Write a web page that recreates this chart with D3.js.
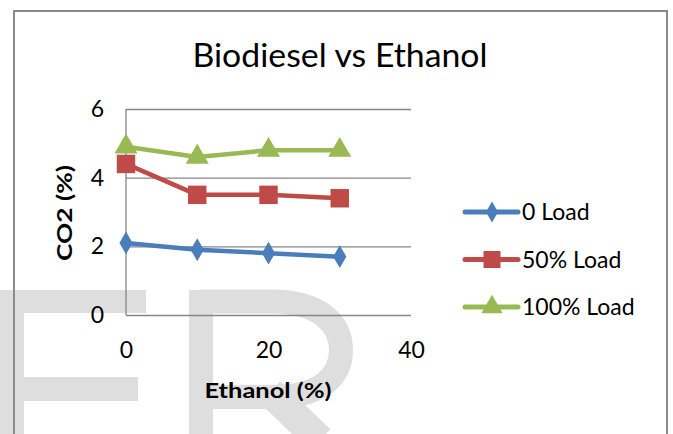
<!DOCTYPE html>
<html>
<head>
<meta charset="utf-8">
<script src="https://cdn.jsdelivr.net/npm/d3@7"></script>
<style>
  body { margin: 0; background: #fff; }
  svg { display: block; }
</style>
</head>
<body>
<svg id="chart" width="673" height="434"></svg>
<script>
// data
var ethanol = [0, 10, 20, 30];
var load0 = [2.1, 1.9, 1.8, 1.7];
var load50 = [4.4, 3.5, 3.5, 3.4];
var load100 = [4.9, 4.6, 4.8, 4.8];
var seriesNames = ["0 Load", "50% Load", "100% Load"];
var xTicks = [0, 20, 40];
var yTicks = [0, 2, 4, 6];

var svg = d3.select("#chart");
var font = "Lato, 'Open Sans', sans-serif";

svg.append("rect").attr("width", 673).attr("height", 434).style("fill", "white");

// watermark letters behind the chart
var wm = svg.append("g").style("fill", "#dedede").style("stroke", "#dedede");
wm.append("rect").attr("x", 0).attr("y", 290).attr("width", 24).attr("height", 150).style("stroke", "none");
wm.append("rect").attr("x", 0).attr("y", 290).attr("width", 146).attr("height", 23).style("stroke", "none");
wm.append("rect").attr("x", 24).attr("y", 377).attr("width", 114).attr("height", 24).style("stroke", "none");
wm.append("rect").attr("x", 189).attr("y", 290).attr("width", 24).attr("height", 150).style("stroke", "none");
wm.append("path")
    .attr("d", "M200 301.5 L272 301.5 C320 301.5 341 324 341 350 C341 377 320 397 272 397 L200 397")
    .style("fill", "none").style("stroke-width", 24);
wm.append("path")
    .attr("d", "M270 392 L320 440")
    .style("fill", "none").style("stroke-width", 30);

// chart frame
svg.append("rect")
    .attr("x", 14).attr("y", 11).attr("width", 653).attr("height", 440)
    .style("fill", "none").style("stroke", "#8a8a8a").style("stroke-width", 2);

var x = d3.scaleLinear().domain([0, 40]).range([126, 411]);
var y = d3.scaleLinear().domain([0, 6]).range([315, 109]);

// y axis with gridlines
var yAxis = svg.append("g")
    .attr("transform", "translate(126,0)")
    .call(d3.axisLeft(y).tickValues(yTicks).tickFormat(d3.format("d"))
      .tickSize(-(411 - 126)).tickPadding(22));
yAxis.select(".domain").remove();
yAxis.selectAll("line").style("stroke", "#868686").style("stroke-width", 1.3);
yAxis.selectAll("text").style("font-family", font).style("font-size", "23px").style("fill", "#000");

svg.append("line")
    .attr("x1", 126).attr("x2", 126).attr("y1", y(6)).attr("y2", y(0))
    .style("stroke", "#868686").style("stroke-width", 1.3);

// x axis
var xAxis = svg.append("g")
    .attr("transform", "translate(0,315)")
    .call(d3.axisBottom(x).tickValues(xTicks).tickFormat(d3.format("d")).tickSize(0).tickPadding(27));
xAxis.select(".domain").remove();
xAxis.selectAll("text").style("font-family", font).style("font-size", "23px").style("fill", "#000");

// titles
svg.append("text")
    .attr("x", 340).attr("y", 67)
    .attr("text-anchor", "middle")
    .attr("textLength", 295).attr("lengthAdjust", "spacingAndGlyphs")
    .style("font-family", font).style("font-size", "33px")
    .text("Biodiesel vs Ethanol");

svg.append("text")
    .attr("x", 268).attr("y", 398)
    .attr("text-anchor", "middle")
    .attr("textLength", 127).attr("lengthAdjust", "spacingAndGlyphs")
    .style("font-family", font).style("font-size", "21px").style("font-weight", "bold")
    .text("Ethanol (%)");

svg.append("text")
    .attr("transform", "translate(72,213) rotate(-90)")
    .attr("text-anchor", "middle")
    .attr("textLength", 96).attr("lengthAdjust", "spacingAndGlyphs")
    .style("font-family", font).style("font-size", "21px").style("font-weight", "bold")
    .text("CO2 (%)");

// series
var series = [
  { name: seriesNames[0], values: load0, color: "#4a7ebb", shape: d3.symbolDiamond, size: 150 },
  { name: seriesNames[1], values: load50, color: "#be4b48", shape: d3.symbolSquare, size: 340 },
  { name: seriesNames[2], values: load100, color: "#98b954", shape: d3.symbolTriangle, size: 230 }
];

var line = d3.line()
    .x(function(d) { return x(d[0]); })
    .y(function(d) { return y(d[1]); });

series.forEach(function(s) {
  var pts = ethanol.map(function(e, i) { return [e, s.values[i]]; });
  svg.append("path")
      .datum(pts)
      .attr("d", line)
      .style("fill", "none")
      .style("stroke", s.color)
      .style("stroke-width", 4.5)
      .style("stroke-linejoin", "round");

  svg.selectAll(null)
      .data(pts)
      .enter().append("path")
      .attr("transform", function(d) { return "translate(" + x(d[0]) + "," + y(d[1]) + ")"; })
      .attr("d", d3.symbol().type(s.shape).size(s.size))
      .style("fill", s.color);
});

// legend
var legend = svg.append("g");
series.forEach(function(s, i) {
  var ly = 212 + i * 47.5;
  var g = legend.append("g").attr("transform", "translate(0," + ly + ")");
  g.append("line")
      .attr("x1", 465).attr("x2", 518).attr("y1", 0).attr("y2", 0)
      .style("stroke", s.color).style("stroke-width", 5).style("stroke-linecap", "round");
  g.append("path")
      .attr("transform", "translate(492,0)")
      .attr("d", d3.symbol().type(s.shape).size(s.size * 0.85))
      .style("fill", s.color);
  g.append("text")
      .attr("x", 522).attr("y", 8)
      .style("font-family", font).style("font-size", "23px")
      .text(s.name);
});
</script>
</body>
</html>
